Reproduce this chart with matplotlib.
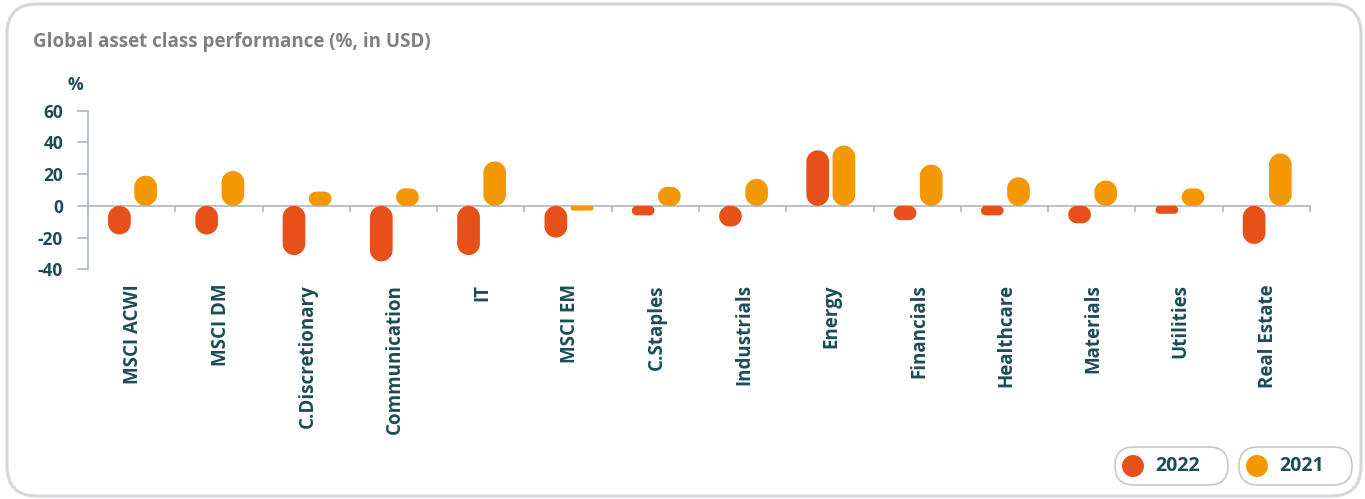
import numpy as np
import matplotlib.pyplot as plt
from matplotlib.patches import FancyBboxPatch, Circle, Polygon
from matplotlib.transforms import Affine2D, blended_transform_factory

W, H = 1365, 499
RED, AMBER = '#E8501A', '#F39800'
TEAL, GREY = '#1C4D57', '#808080'
AXIS = '#AEB8C0'

categories = ['MSCI ACWI', 'MSCI DM', 'C.Discretionary', 'Communication', 'IT',
              'MSCI EM', 'C.Staples', 'Industrials', 'Energy', 'Financials',
              'Healthcare', 'Materials', 'Utilities', 'Real Estate']
perf_2022 = [-18, -18, -31, -35, -31, -20, -6, -13, 35, -9, -6, -11, -5, -24]
perf_2021 = [19, 22, 9, 11, 28, -3, 12, 17, 38, 26, 18, 16, 11, 33]
years = ['2022', '2021']
yticks = [-40, -20, 0, 20, 40, 60]

plt.rcParams['font.family'] = ['Open Sans', 'DejaVu Sans']
plt.rcParams['font.weight'] = 'bold'

fig = plt.figure(figsize=(W / 100, H / 100), dpi=100, facecolor='white')
# pixel coordinates, origin bottom-left
pix = Affine2D().scale(1 / W, 1 / H) + fig.transFigure

# card outline
fig.patches.append(FancyBboxPatch((7, 3), 1354, 492,
                                  boxstyle='round,pad=0,rounding_size=30',
                                  transform=pix, facecolor='none',
                                  edgecolor='#D3D7DB', linewidth=2.2, zorder=-1))
fig.text(33 / W, 1 - 42 / H, 'Global asset class performance (%, in USD)',
         color=GREY, fontsize=13.5, fontweight='bold', va='center', ha='left')

ax_l, ax_r = 88, 1310
ax_top, ax_bot = 110.7, 269.3
ax = fig.add_axes([ax_l / W, 1 - ax_bot / H, (ax_r - ax_l) / W, (ax_bot - ax_top) / H])
ax.set_xlim(0, len(categories))
ax.set_ylim(-40, 60)
ax.patch.set_alpha(0)

for s in ['top', 'right']:
    ax.spines[s].set_visible(False)
ax.spines['bottom'].set_position(('data', 0))
for s in ['left', 'bottom']:
    ax.spines[s].set_color(AXIS)
    ax.spines[s].set_linewidth(1.2)

ax.set_yticks(yticks)
ax.set_yticklabels([str(v) for v in yticks])
ax.tick_params(axis='y', length=8, width=1.2, color=AXIS, pad=10,
               labelsize=12.5, labelcolor=TEAL)
ax.set_xticks(np.arange(len(categories) + 1))
ax.set_xticklabels([])
ax.tick_params(axis='x', length=4.5, width=1.2, color=AXIS, direction='out')
fig.text(75 / W, 1 - 85 / H, '%', color=TEAL, fontsize=12.5,
         fontweight='bold', ha='center', va='center')

# capsule bars: circular ends in pixel space
px_x = (ax_r - ax_l) / len(categories)
px_y = (ax_bot - ax_top) / 100
aspect = px_x / px_y


def capsule(x0, y0, w, h, n=20):
    hs = h / aspect                      # height in x-units
    r = min(w, hs) / 2
    t = np.linspace(0, np.pi / 2, n)
    corners = [(x0 + w - r, hs - r, 0), (x0 + r, hs - r, np.pi / 2),
               (x0 + r, r, np.pi), (x0 + w - r, r, 1.5 * np.pi)]
    pts = []
    for cx, cy, a0 in corners:
        pts.append(np.column_stack([cx + r * np.cos(t + a0), cy + r * np.sin(t + a0)]))
    pts = np.vstack(pts)
    pts[:, 1] = pts[:, 1] * aspect + y0
    return pts


bw, off = 0.26, 0.15
centers = np.arange(len(categories)) + 0.5
for vals, color, dx in [(perf_2022, RED, -off), (perf_2021, AMBER, off)]:
    for c, v in zip(centers, vals):
        verts = capsule(c + 0.01 + dx - bw / 2, min(0, v), bw, abs(v))
        ax.add_patch(Polygon(verts, closed=True, facecolor=color,
                             edgecolor='none', zorder=3))

lbl_tf = blended_transform_factory(ax.transData, pix)
for c, name in zip(centers, categories):
    ax.text(c + 0.02, H - 284, name, transform=lbl_tf, rotation=90,
            ha='center', va='top', color=TEAL, fontsize=13.5, fontweight='bold',
            clip_on=False)

# legend pills
for x0, color, year in [(1115, RED, years[0]), (1239, AMBER, years[1])]:
    fig.patches.append(FancyBboxPatch((x0, H - 485), 113, 38,
                                      boxstyle='round,pad=0,rounding_size=19',
                                      transform=pix, facecolor='white',
                                      edgecolor='#C4C8CC', linewidth=1.2))
    fig.patches.append(Circle((x0 + 18, H - 466), 11, transform=pix,
                              facecolor=color, edgecolor='none'))
    fig.text((x0 + 40) / W, 1 - 466 / H, year, color=TEAL, fontsize=14,
             fontweight='bold', ha='left', va='center')

fig.savefig('out.png', dpi=100, facecolor='white')
